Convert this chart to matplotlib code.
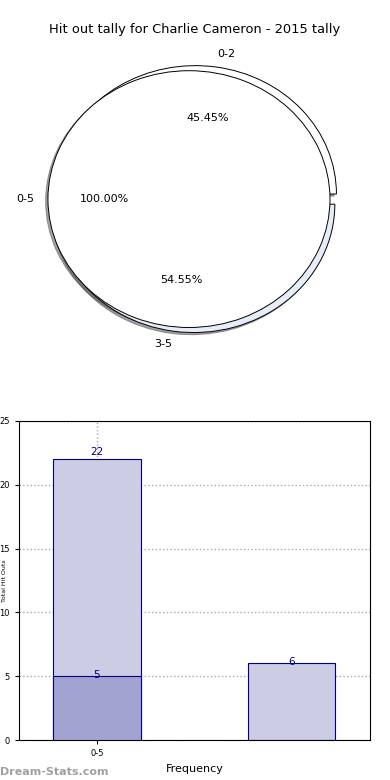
import matplotlib
matplotlib.use('Agg')
import matplotlib.pyplot as plt

# pie data
band_labels = ['0-2', '3-5']
band_values = [5, 6]
total_labels = ['0-5']
total_values = [22]

# bar data
bar_ticks = ['0-5']
games_total = [22]
games_low = [5]
games_high = [6]

title = 'Hit out tally for Charlie Cameron - 2015 tally'

fig = plt.figure(figsize=(3.9, 7.8), dpi=100)
fig.text(0.5, 1 - 30/780, title, ha='center', va='center', fontsize=9.4)

# top: two pies stacked over each other
shadow = {'ox': -0.012, 'oy': -0.012, 'alpha': 0.5}
ax1 = fig.add_axes([0.047, 0.539, 0.904, 0.4115])
ax1.pie(band_values, labels=band_labels, explode=[0.04, 0.04],
        colors=['white', '#e6ecf8'], autopct='%.2f%%', shadow=shadow,
        wedgeprops={'edgecolor': 'black', 'linewidth': 0.7},
        textprops={'fontsize': 8})
ax1.pie(total_values, labels=total_labels, explode=[0.04],
        colors=['white'], autopct='%.2f%%', shadow=shadow,
        wedgeprops={'edgecolor': 'black', 'linewidth': 0.7},
        textprops={'fontsize': 8})
ax1.set_aspect('auto')
ax1.set_xlim(-1.25, 1.25)
ax1.set_ylim(-1.25, 1.25)
ax1.axis('off')

# bottom: bar chart
ax2 = fig.add_axes([19/390, 40/780, 351/390, 319/780])
b1 = ax2.bar([0], games_total, width=0.45, color='#ccccE4', edgecolor='#000080', linewidth=0.8, zorder=2)
b2 = ax2.bar([0], games_low, width=0.45, color='#a3a3d2', edgecolor='#000080', linewidth=0.8, zorder=3)
b3 = ax2.bar([1], games_high, width=0.45, color='#ccccE4', edgecolor='#000080', linewidth=0.8, zorder=2)
for bars in (b1, b2, b3):
    for b in bars:
        h = b.get_height()
        ax2.text(b.get_x() + b.get_width()/2, 1.025*h, str(int(h)),
                 ha='center', va='center', color='#000080', fontsize=7.5, zorder=4)
ax2.set_xlim(-0.4, 1.404)
ax2.set_ylim(0, 25)
ax2.set_xticks([0])
ax2.set_xticklabels(bar_ticks)
ax2.set_yticks([0, 5, 10, 15, 20, 25])
ax2.tick_params(labelsize=6, length=3)
ax2.grid(True, linestyle=':', color='#aaaaaa', linewidth=1, zorder=0)
ax2.set_axisbelow(True)
ax2.set_xlabel('Frequency', fontsize=8)
ax2.set_ylabel('Total Hit Outs', fontsize=4.5)
ax2.yaxis.set_label_coords((7.5 - 19)/351, 0.5)

fig.text(0.0, 3/780, 'Dream-Stats.com', color='#a0a0a0', fontsize=8, fontweight='bold', ha='left', va='bottom')

fig.savefig('out.png', dpi=100)
